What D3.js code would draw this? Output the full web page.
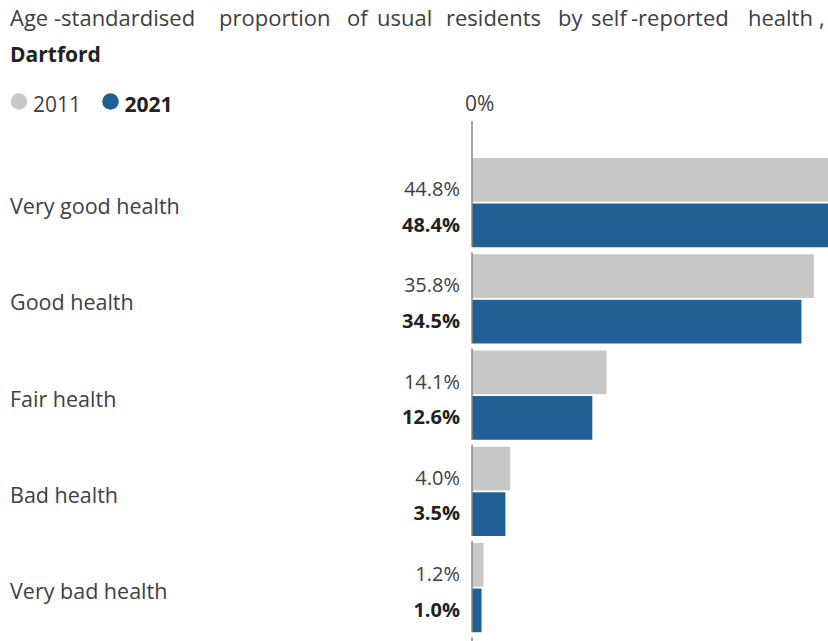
<!DOCTYPE html>
<html>
<head>
<meta charset="utf-8">
<script src="https://cdn.jsdelivr.net/npm/d3@7"></script>
<style>
  html, body { margin: 0; padding: 0; background: #fff; }
  svg { display: block; font-family: "Open Sans", sans-serif; }
</style>
</head>
<body>
<svg id="chart" width="828" height="641"></svg>
<script>
const titleWords = ["Age", "-standardised", "proportion", "of", "usual", "residents", "by", "self", "-reported", "health", ","];
const subtitle = "Dartford";
const categories = ["Very good health", "Good health", "Fair health", "Bad health", "Very bad health"];
const seriesNames = ["2011", "2021"];
const values2011 = [44.8, 35.8, 14.1, 4.0, 1.2];
const values2021 = [48.4, 34.5, 12.6, 3.5, 1.0];
const xTickLabels = ["0%"];

const colors = { "2011": "#c8c8c8", "2021": "#206095" };
const textColor = "#414042";
const darkText = "#222222";

const svg = d3.select("#chart");

// Title (justified-looking word layout)
const titleX = [10, 54, 219, 347, 377, 446, 558, 591, 631, 748, 819];
const title = svg.append("text")
  .attr("y", 26)
  .attr("font-size", 22)
  .attr("fill", textColor);
title.selectAll("tspan").data(titleWords).join("tspan")
  .attr("x", (d, i) => titleX[i])
  .text(d => d);

svg.append("text")
  .attr("x", 10).attr("y", 62)
  .attr("font-size", 21)
  .attr("font-weight", 700)
  .attr("fill", darkText)
  .text(subtitle);

// Legend
const legend = svg.append("g");
const legendX = [19, 110.5];
seriesNames.forEach((s, i) => {
  legend.append("circle")
    .attr("cx", legendX[i]).attr("cy", 101.5).attr("r", 8.3)
    .attr("fill", colors[s]);
  legend.append("text")
    .attr("x", legendX[i] + 14).attr("y", 112)
    .attr("font-size", 21)
    .attr("font-weight", i === 1 ? 700 : 400)
    .attr("fill", i === 1 ? darkText : textColor)
    .text(s);
});

// Scales
const x = d3.scaleLinear().domain([0, 50]).range([472, 949.5]);
const y0 = d3.scaleBand()
  .domain(categories)
  .range([154.5, 154.5 + 5 * 96.25])
  .paddingInner(0.073)
  .paddingOuter(0.0365);
const y1 = d3.scaleBand()
  .domain(seriesNames)
  .range([0, y0.bandwidth()])
  .paddingInner(0.04);

const data = categories.map((c, i) => ({
  category: c,
  values: [
    { series: "2011", value: values2011[i] },
    { series: "2021", value: values2021[i] }
  ]
}));

// Axis tick label
svg.append("text")
  .attr("x", x(0) - 7).attr("y", 111)
  .attr("font-size", 21)
  .attr("fill", textColor)
  .text(xTickLabels[0]);

// Bars
const groups = svg.append("g").selectAll("g").data(data).join("g")
  .attr("transform", d => `translate(0,${y0(d.category)})`);

groups.selectAll("rect").data(d => d.values).join("rect")
  .attr("x", x(0))
  .attr("y", d => y1(d.series))
  .attr("width", d => x(d.value) - x(0))
  .attr("height", y1.bandwidth())
  .attr("fill", d => colors[d.series]);

// Value labels
groups.selectAll("text.val").data(d => d.values).join("text")
  .attr("class", "val")
  .attr("x", x(0) - 12)
  .attr("y", d => y1(d.series) + (d.series === "2011" ? 38 : 28))
  .attr("text-anchor", "end")
  .attr("font-size", 20)
  .attr("font-weight", d => d.series === "2021" ? 700 : 400)
  .attr("fill", d => d.series === "2021" ? darkText : textColor)
  .text(d => d.value.toFixed(1) + "%");

// Category labels
groups.append("text")
  .attr("x", 10)
  .attr("y", y0.bandwidth() / 2 + 11.5)
  .attr("font-size", 21.5)
  .attr("fill", textColor)
  .text(d => d.category);

// Axis line segments (one per group)
const axisG = svg.append("g");
categories.forEach((c, i) => {
  axisG.append("line")
    .attr("x1", x(0)).attr("x2", x(0))
    .attr("y1", i === 0 ? 121 : y0(c) - 2)
    .attr("y2", y0(c) + y0.bandwidth())
    .attr("stroke", "#888").attr("stroke-width", 1.5);
});
const lastEnd = y0(categories[categories.length - 1]) + y0.step() - 2;
axisG.append("line")
  .attr("x1", x(0)).attr("x2", x(0))
  .attr("y1", lastEnd).attr("y2", 641)
  .attr("stroke", "#888").attr("stroke-width", 1.5);
</script>
</body>
</html>
